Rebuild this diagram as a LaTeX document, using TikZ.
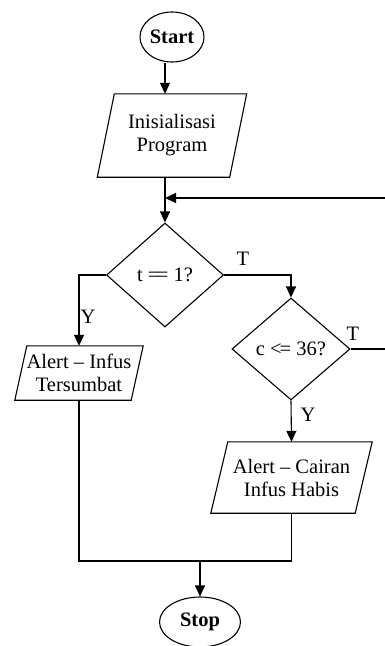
\documentclass[tikz,border=0pt]{standalone}
\usepackage{fontspec}
\setmainfont{Liberation Serif}
\usetikzlibrary{shapes.geometric,arrows.meta,calc}
\newcommand{\ioshape}[2]{\draw[line] ([xshift=#2]#1.north west) -- ([xshift=#2]#1.north east) -- ([xshift=-#2]#1.south east) -- ([xshift=-#2]#1.south west) -- cycle;}
\begin{document}
\begin{tikzpicture}[x=1pt,y=-1pt,
  line/.style={line width=1.1pt,draw=black},
  arr/.style={line,-{Triangle[length=11pt,width=10pt]}},
  term/.style={ellipse,line,inner sep=0pt,font=\fontsize{20.5}{23}\selectfont\bfseries},
  dec/.style={diamond,line,inner sep=0pt,font=\fontsize{20.5}{23}\selectfont},
  io/.style={inner sep=0pt,align=center,font=\fontsize{20.5}{23}\selectfont},
  lbl/.style={inner sep=0pt,font=\fontsize{20.5}{23}\selectfont}]
\useasboundingbox (0,0) rectangle (385,646);
\clip (0,0) rectangle (385,646);
\fill[white] (0,0) rectangle (385,646);

\node[term,minimum width=64pt,minimum height=50pt] (start) at (172,37) {Start};
\node[io,minimum width=132pt,minimum height=83pt] (init) at (172,135.5) {Inisialisasi\\Program};
\ioshape{init}{8.5pt}
\node[dec,minimum width=117pt,minimum height=104pt] (d1) at (165,275) {t =\kern-.12em= 1?};
\node[dec,minimum width=118pt,minimum height=102pt] (d2) at (291,349) {c <\kern-.1em= 36?};
\node[io,minimum width=116pt,minimum height=54pt] (a1) at (79,373) {Alert – Infus\\Tersumbat};
\ioshape{a1}{6pt}
\node[io,minimum width=144pt,minimum height=71pt] (a2) at (291.5,477.5) {Alert – Cairan\\Infus Habis};
\ioshape{a2}{8.5pt}
\node[term,minimum width=81pt,minimum height=50pt] (stop) at (200,622) {Stop};

\coordinate (merge) at (165,198);
\coordinate (join) at (200,561);
\coordinate (loopA) at (395,349);
\coordinate (loopB) at (395,198);

\draw[arr] (start.south -| d1.north) -- (init.north -| d1.north);
\draw[line] (init.south -| d1.north) -- (merge);
\draw[arr] (merge) -- (d1.north);
\draw[arr] (d2.east) -- (loopA) -- (loopB) -- (merge);
\draw[arr] (d1.west) -| (a1.north);
\draw[arr] (d1.east) -| (d2.north);
\draw[arr] (d2.south) -- (a2.north);
\draw[line] (a1.south) |- (join) -| (a2.south);
\draw[arr] (join) -- (stop.north);

\node[lbl] (t1) at (243,259) {T};
\node[lbl] (y1) at (88,317) {Y};
\node[lbl] (t2) at (353,334) {T};
\node[lbl] (y2) at (308,415) {Y};
\end{tikzpicture}
\end{document}
